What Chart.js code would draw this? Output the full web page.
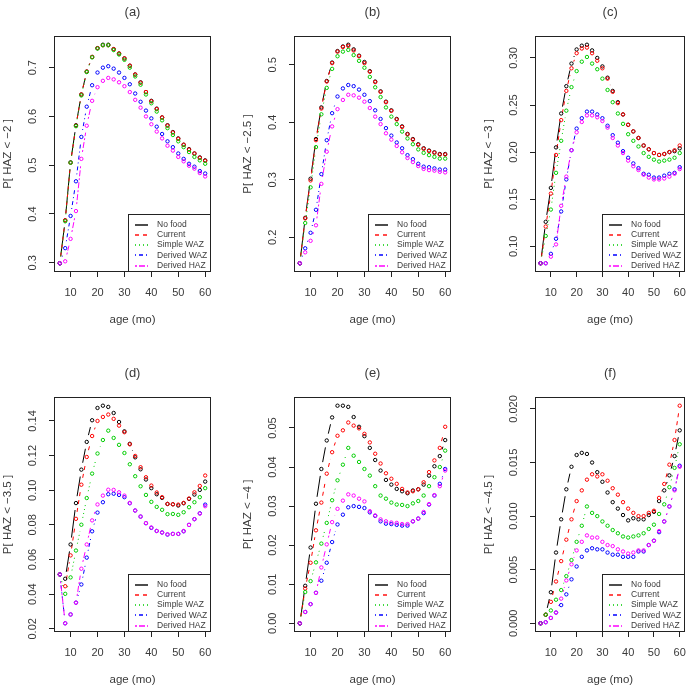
<!DOCTYPE html>
<html><head><meta charset="utf-8">
<script src="https://cdn.jsdelivr.net/npm/chart.js@4.4.1/dist/chart.umd.min.js"></script>
<style>
html,body{margin:0;padding:0;background:#fff;}
#wrap{position:relative;width:695px;height:689px;background:#fff;overflow:hidden;}
.panel{position:absolute;}
canvas{display:block;}
</style></head><body><div id="wrap"></div>
<script>
// ---------------- data ----------------
const ages = [6,8,10,12,14,16,18,20,22,24,26,28,30,32,34,36,38,40,42,44,46,48,50,52,54,56,58,60];
const seriesNames = ["No food","Current","Simple WAZ","Derived WAZ","Derived HAZ"];
const panelTitles = ["(a)","(b)","(c)","(d)","(e)","(f)"];
const yAxisTitles = ["P[ HAZ < \u22122 ]","P[ HAZ < \u22122.5 ]","P[ HAZ < \u22123 ]","P[ HAZ < \u22123.5 ]","P[ HAZ < \u22124 ]","P[ HAZ < \u22124.5 ]"];
const xAxisTitle = "age (mo)";
const xTickLabels = ["10","20","30","40","50","60"];
const yTicksA = ["0.3","0.4","0.5","0.6","0.7"];
const yTicksB = ["0.2","0.3","0.4","0.5"];
const yTicksC = ["0.10","0.15","0.20","0.25","0.30"];
const yTicksD = ["0.02","0.04","0.06","0.08","0.10","0.12","0.14"];
const yTicksE = ["0.00","0.01","0.02","0.03","0.04","0.05"];
const yTicksF = ["0.000","0.005","0.010","0.015","0.020"];

const a_noFood  = [.299,.387,.506,.582,.645,.692,.722,.740,.747,.747,.738,.729,.719,.704,.686,.670,.650,.632,.616,.598,.582,.568,.555,.542,.533,.524,.516,.510];
const a_current = [.299,.387,.505,.581,.645,.692,.722,.740,.746,.746,.738,.729,.719,.704,.686,.669,.650,.631,.615,.598,.581,.567,.554,.542,.532,.524,.515,.509];
const a_simple  = [.299,.385,.505,.580,.643,.691,.721,.739,.746,.746,.736,.727,.716,.700,.682,.665,.645,.627,.610,.592,.576,.562,.549,.537,.527,.517,.510,.503];
const a_dWAZ    = [.299,.330,.396,.467,.558,.620,.664,.690,.700,.703,.698,.690,.679,.666,.647,.630,.612,.596,.579,.564,.549,.537,.524,.513,.503,.497,.488,.483];
const a_dHAZ    = [.299,.303,.349,.406,.513,.581,.632,.660,.673,.679,.676,.670,.662,.650,.634,.618,.600,.584,.569,.555,.540,.530,.517,.508,.499,.493,.484,.477];

const b_noFood  = [.155,.234,.302,.371,.426,.472,.504,.524,.532,.535,.527,.516,.505,.489,.471,.454,.436,.421,.406,.393,.380,.371,.362,.355,.351,.348,.345,.345];
const b_current = [.155,.233,.299,.369,.424,.471,.503,.523,.531,.533,.525,.515,.503,.488,.470,.453,.435,.420,.405,.392,.379,.370,.361,.354,.350,.347,.344,.344];
const b_simple  = [.155,.225,.287,.357,.414,.460,.493,.515,.523,.526,.517,.507,.495,.479,.461,.444,.426,.410,.397,.384,.372,.362,.353,.347,.343,.340,.337,.337];
const b_dWAZ    = [.155,.181,.208,.248,.310,.369,.416,.445,.459,.465,.463,.457,.448,.437,.421,.406,.390,.377,.365,.355,.343,.336,.328,.323,.322,.320,.318,.318];
const b_dHAZ    = [.155,.174,.194,.221,.293,.349,.393,.423,.439,.448,.447,.443,.436,.425,.410,.397,.381,.370,.359,.348,.338,.331,.324,.319,.317,.316,.314,.313];

const c_noFood  = [.082,.126,.162,.205,.241,.270,.294,.309,.313,.314,.308,.300,.291,.279,.265,.253,.240,.229,.222,.215,.207,.203,.199,.197,.198,.200,.201,.204];
const c_current = [.082,.121,.156,.197,.234,.265,.289,.305,.310,.311,.305,.297,.289,.278,.264,.252,.240,.229,.222,.215,.207,.203,.199,.197,.198,.200,.202,.207];
const c_simple  = [.082,.111,.139,.178,.212,.244,.269,.286,.296,.301,.294,.288,.278,.266,.253,.241,.230,.219,.212,.206,.199,.195,.192,.190,.191,.192,.194,.199];
const c_dWAZ    = [.082,.082,.092,.108,.137,.171,.202,.225,.236,.243,.243,.240,.236,.228,.218,.210,.201,.194,.188,.183,.177,.176,.173,.173,.175,.177,.178,.184];
const c_dHAZ    = [.082,.082,.089,.102,.143,.174,.202,.221,.232,.239,.239,.237,.233,.226,.215,.207,.199,.191,.185,.181,.176,.173,.171,.171,.172,.174,.177,.182];

const d_noFood  = [.0514,.0489,.0687,.0926,.1119,.1279,.1404,.1475,.1488,.1481,.1446,.1394,.1340,.1268,.1190,.1121,.1062,.1012,.0977,.0956,.0921,.0919,.0912,.0925,.0950,.0975,.1002,.1050];
const d_current = [.0514,.0446,.0624,.0835,.1032,.1192,.1313,.1400,.1423,.1437,.1412,.1373,.1335,.1265,.1198,.1133,.1075,.1027,.0987,.0960,.0921,.0919,.0917,.0927,.0952,.0988,.1025,.1085];
const d_simple  = [.0514,.0402,.0497,.0652,.0801,.0955,.1096,.1212,.1290,.1344,.1302,.1262,.1215,.1150,.1081,.1023,.0973,.0933,.0904,.0887,.0862,.0863,.0858,.0873,.0902,.0931,.0960,.1012];
const d_dWAZ    = [.0514,.0232,.0283,.0351,.0456,.0611,.0763,.0871,.0931,.0977,.0980,.0973,.0960,.0925,.0883,.0848,.0810,.0783,.0765,.0756,.0744,.0748,.0748,.0763,.0800,.0833,.0867,.0917];
const d_dHAZ    = [.0514,.0232,.0283,.0351,.0547,.0687,.0826,.0918,.0969,.1003,.1002,.0988,.0969,.0927,.0883,.0848,.0810,.0785,.0765,.0756,.0746,.0748,.0748,.0765,.0800,.0833,.0865,.0908];

const e_noFood  = [0,.0096,.0194,.0306,.0395,.0468,.0527,.0557,.0557,.0554,.0528,.0503,.0479,.0449,.0418,.0391,.0367,.0355,.0344,.0338,.0333,.0340,.0343,.0355,.0378,.0402,.0428,.0469];
const e_current = [0,.0089,.0155,.0238,.0309,.0383,.0438,.0480,.0494,.0514,.0506,.0499,.0485,.0463,.0434,.0409,.0384,.0370,.0357,.0344,.0335,.0338,.0343,.0361,.0387,.0417,.0449,.0503];
const e_simple  = [0,.0080,.0108,.0156,.0204,.0257,.0315,.0366,.0406,.0449,.0429,.0413,.0395,.0378,.0351,.0327,.0319,.0309,.0304,.0303,.0300,.0307,.0313,.0327,.0351,.0374,.0400,.0442];
const e_dWAZ    = [0,.0029,.0049,.0078,.0109,.0155,.0208,.0253,.0278,.0297,.0300,.0298,.0295,.0284,.0275,.0261,.0255,.0254,.0252,.0250,.0250,.0261,.0268,.0282,.0304,.0327,.0357,.0395];
const e_dHAZ    = [0,.0029,.0049,.0078,.0143,.0202,.0259,.0293,.0314,.0330,.0327,.0319,.0312,.0287,.0276,.0266,.0261,.0258,.0257,.0254,.0254,.0261,.0268,.0285,.0305,.0328,.0351,.0391];

const f_noFood  = [0,.0008,.0029,.0066,.0097,.0125,.0146,.0157,.0159,.0158,.0150,.0141,.0132,.0122,.0113,.0107,.0101,.0096,.0098,.0097,.0097,.0101,.0104,.0114,.0124,.0138,.0156,.0180];
const f_current = [0,.0008,.0020,.0039,.0058,.0078,.0097,.0114,.0124,.0134,.0139,.0137,.0139,.0133,.0126,.0120,.0113,.0107,.0103,.0100,.0100,.0103,.0105,.0117,.0130,.0148,.0171,.0203];
const f_simple  = [0,.0008,.0012,.0022,.0031,.0044,.0059,.0076,.0091,.0109,.0103,.0100,.0095,.0091,.0087,.0084,.0081,.0080,.0081,.0082,.0084,.0088,.0092,.0102,.0111,.0127,.0145,.0167];
const f_dWAZ    = [0,.0001,.0005,.0010,.0017,.0027,.0041,.0053,.0062,.0068,.0070,.0069,.0069,.0066,.0064,.0064,.0062,.0062,.0062,.0067,.0067,.0073,.0077,.0085,.0095,.0109,.0125,.0147];
const f_dHAZ    = [0,.0001,.0005,.0010,.0023,.0040,.0055,.0068,.0076,.0082,.0080,.0080,.0076,.0073,.0072,.0069,.0067,.0065,.0066,.0068,.0068,.0073,.0077,.0086,.0095,.0109,.0124,.0146];

// ---------------- styling / layout ----------------
const FONT = '"Liberation Sans", Arial, Helvetica, sans-serif';
const TEXT = '#3a3a3a';
const AXIS = '#222';
const colors = ['#000000','#ff0000','#00cd00','#0000ff','#ff00ff'];
const dashes = [[], [4,4], [1,3], [1,3,4,3], [2,2,6,2]];
const GAP = 7;

Chart.defaults.font.family = FONT;
Chart.defaults.color = TEXT;

const panelSeries = [
  [a_noFood,a_current,a_simple,a_dWAZ,a_dHAZ],
  [b_noFood,b_current,b_simple,b_dWAZ,b_dHAZ],
  [c_noFood,c_current,c_simple,c_dWAZ,c_dHAZ],
  [d_noFood,d_current,d_simple,d_dWAZ,d_dHAZ],
  [e_noFood,e_current,e_simple,e_dWAZ,e_dHAZ],
  [f_noFood,f_current,f_simple,f_dWAZ,f_dHAZ]
];
const panelYTicks = [yTicksA,yTicksB,yTicksC,yTicksD,yTicksE,yTicksF];

const colLeft = [0,231,462], colW = [231,231,233];
const rowTop = [0,344], rowH = [344,345];
const boxL = [54,294,535], boxR = [211,451,691];
const boxT = [36,397], boxB = [272,632];

function rangeOf(arrs){
  let lo=Infinity, hi=-Infinity;
  arrs.forEach(a=>a.forEach(v=>{ if(v<lo)lo=v; if(v>hi)hi=v; }));
  const pad=(hi-lo)*0.04; return [lo-pad, hi+pad];
}

const wrap = document.getElementById('wrap');

for (let p=0;p<6;p++){
  const col = p%3, row = Math.floor(p/3);
  const W = colW[col], H = rowH[row];
  const bl = boxL[col]-colLeft[col];
  const br = W-(boxR[col]-colLeft[col]);
  const bt = boxT[row]-rowTop[row];
  const bb = boxB[row]-rowTop[row];
  const div = document.createElement('div');
  div.className='panel';
  div.style.left = colLeft[col]+'px'; div.style.top = rowTop[row]+'px';
  div.style.width = W+'px'; div.style.height = H+'px';
  const cv = document.createElement('canvas');
  cv.width = W; cv.height = H; cv.style.width=W+'px'; cv.style.height=H+'px';
  div.appendChild(cv); wrap.appendChild(div);

  const series = panelSeries[p];
  const yr = rangeOf(series);
  const xr = rangeOf([ages]);
  const yLabels = panelYTicks[p];
  const titleFont = 11.5, lhHalf = titleFont*1.2/2;

  const datasets = series.map((arr,i)=>({
    label: seriesNames[i],
    data: ages.map((a,k)=>({x:a,y:arr[k]})),
    borderColor: colors[i],
    backgroundColor: 'rgba(0,0,0,0)',
    pointBackgroundColor: 'rgba(0,0,0,0)',
    pointBorderColor: colors[i],
    pointRadius: 1.7,
    pointBorderWidth: 1,
    pointStyle: 'circle',
    showLine: false,
    order: 4-i
  }));

  const rPlot = {
    id: 'rPlot'+p,
    beforeDatasetsDraw(chart){
      const ctx = chart.ctx, A = chart.chartArea;
      ctx.save();
      ctx.beginPath(); ctx.rect(A.left, A.top, A.right-A.left, A.bottom-A.top); ctx.clip();
      for (let i=0;i<chart.data.datasets.length;i++){
        const pts = chart.getDatasetMeta(i).data;
        ctx.strokeStyle = colors[i]; ctx.lineWidth = 1;
        ctx.setLineDash(dashes[i]);
        for (let k=0;k<pts.length-1;k++){
          const p0=pts[k], p1=pts[k+1];
          const dx=p1.x-p0.x, dy=p1.y-p0.y, d=Math.hypot(dx,dy);
          if (d <= 2*GAP) continue;
          const f = GAP/d;
          ctx.beginPath();
          ctx.moveTo(p0.x+dx*f, p0.y+dy*f);
          ctx.lineTo(p1.x-dx*f, p1.y-dy*f);
          ctx.stroke();
        }
      }
      ctx.restore();
    },
    afterDraw(chart){
      const ctx = chart.ctx, A = chart.chartArea;
      ctx.save();
      // plot box
      ctx.setLineDash([]);
      ctx.strokeStyle = AXIS; ctx.lineWidth = 1;
      ctx.strokeRect(Math.round(A.left)+0.5, Math.round(A.top)+0.5, Math.round(A.right-A.left)-1, Math.round(A.bottom-A.top)-1);
      // y tick labels (rotated, as in R)
      const ys = chart.scales.y;
      ctx.fillStyle = TEXT; ctx.font = '11px '+FONT;
      ctx.textAlign='center'; ctx.textBaseline='middle';
      yLabels.forEach(lbl=>{
        const py = ys.getPixelForValue(parseFloat(lbl));
        ctx.save(); ctx.translate(A.left-21, py); ctx.rotate(-Math.PI/2);
        ctx.fillText(lbl,0,0); ctx.restore();
      });
      // panel title
      ctx.font = '13px '+FONT;
      ctx.fillText(panelTitles[p], (A.left+A.right)/2, A.top-24);
      // legend
      const lw=83, lh=58;
      const lx = Math.round(A.right)-lw, ly = Math.round(A.bottom)-lh;
      ctx.strokeStyle = AXIS;
      ctx.strokeRect(lx+0.5, ly+0.5, lw-1, lh-1);
      ctx.font = '8.5px '+FONT; ctx.textAlign='left'; ctx.textBaseline='middle';
      for (let i=0;i<seriesNames.length;i++){
        const yy = ly + 10.5 + i*10.3;
        ctx.save();
        ctx.strokeStyle = colors[i]; ctx.lineWidth = 1.4; ctx.setLineDash(dashes[i]);
        ctx.beginPath(); ctx.moveTo(lx+7, Math.round(yy)); ctx.lineTo(lx+20, Math.round(yy)); ctx.stroke();
        ctx.restore();
        ctx.fillStyle = TEXT; ctx.fillText(seriesNames[i], lx+29, yy);
      }
      ctx.restore();
    }
  };

  new Chart(cv, {
    type: 'scatter',
    data: { datasets },
    options: {
      responsive: false, devicePixelRatio: 1, animation: false, events: [],
      layout: { padding: { top: bt, right: br, bottom: 0, left: 0 } },
      plugins: { legend: { display:false }, tooltip: { enabled:false } },
      scales: {
        x: {
          type:'linear', min: xr[0], max: xr[1],
          afterBuildTicks: s => { s.ticks = xTickLabels.map(t=>({value: parseFloat(t)})); },
          afterFit: s => { s.height = H - bb; },
          ticks: { font:{size:11}, color: TEXT, padding: 9, maxRotation:0, autoSkip:false },
          grid: { drawOnChartArea:false, drawTicks:true, tickLength:5, color: AXIS, lineWidth:1 },
          border: { display:false },
          title: { display:true, text: xAxisTitle, font:{size:titleFont}, color: TEXT,
                   padding: { top:0, bottom: H - bb - 48 - lhHalf } }
        },
        y: {
          type:'linear', min: yr[0], max: yr[1],
          afterBuildTicks: s => { s.ticks = yLabels.map(t=>({value: parseFloat(t)})); },
          afterFit: s => { s.width = bl; },
          ticks: { display:false },
          grid: { drawOnChartArea:false, drawTicks:true, tickLength:5, color: AXIS, lineWidth:1 },
          border: { display:false },
          title: { display:true, text: yAxisTitles[p], font:{size:titleFont}, color: TEXT,
                   padding: { top: bl - 46 - lhHalf, bottom:0 } }
        }
      }
    },
    plugins: [rPlot]
  });
}
</script>
</body></html>
